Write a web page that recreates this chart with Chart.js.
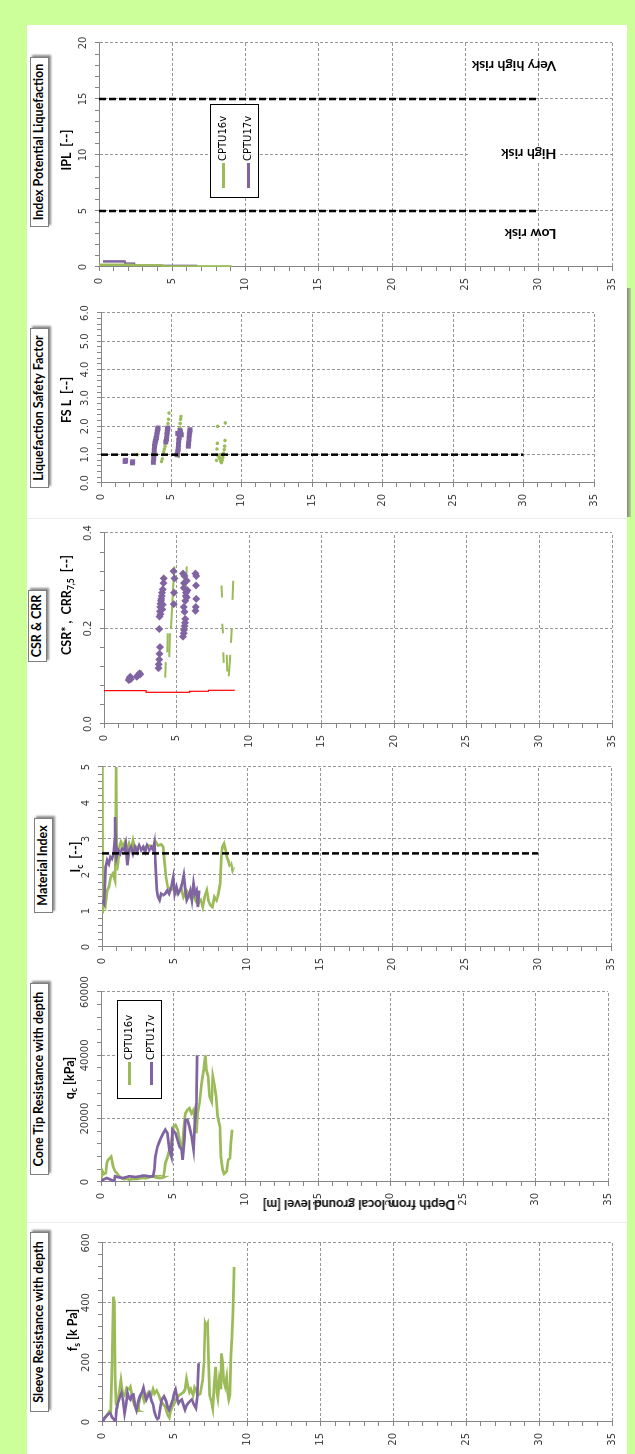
<!DOCTYPE html>
<html>
<head>
<meta charset="utf-8">
<title>CPTU profiles</title>
<script src="https://cdn.jsdelivr.net/npm/chart.js@4.4.1/dist/chart.umd.min.js"></script>
<style>
  html, body { margin:0; padding:0; width:635px; height:1454px; overflow:hidden; background:#ccff99; }
  /* the sheet is laid out landscape and turned a quarter turn */
  #sheet { position:absolute; left:0; top:0; width:1454px; height:635px;
           transform-origin:0 0; transform:translateY(1454px) rotate(-90deg); }
  #paper { position:absolute; left:0; top:27px; width:1429px; height:600px; background:#fff; }
  .sep { position:absolute; top:27px; width:1px; height:600px; background:#ededed; }
  #shadow { position:absolute; left:937px; top:627px; width:229px; height:4px;
            background:linear-gradient(#7d8b70,#b5d896); }
  canvas { position:absolute; }
  .box { position:absolute; height:17px; line-height:17px; border:1px solid #7f7f7f; background:#fff;
         box-shadow:2px 2px 2px rgba(0,0,0,0.45); font:bold 12.5px Lato, sans-serif; color:#000;
         text-align:center; white-space:nowrap; }
  .axt { position:absolute; transform:translate(-50%,-50%); font:bold 12.5px Lato, sans-serif;
         color:#000; white-space:nowrap; }
  .axt sub { font-size:8.5px; vertical-align:-3px; line-height:0; }
  .leg { position:absolute; border:1px solid #000; background:#fff; font:10px 'DejaVu Sans', sans-serif; color:#000; }
  .leg .row { position:absolute; height:12px; line-height:12px; white-space:nowrap; }
  .leg .smp { display:inline-block; height:3px; vertical-align:middle; margin-right:2px; }
  #depthTitle { position:absolute; left:249px; top:359px; transform:translate(-50%,-50%) rotate(-90deg);
                font:bold 13px Lato, sans-serif; white-space:nowrap; color:#000; }
</style>
</head>
<body>
<div id="sheet">
  <div id="paper"></div>
  <div class="sep" style="left:231px"></div>
  <div class="sep" style="left:935px"></div>
  <div id="shadow"></div>
</div>
<script>
// ---------------- data ----------------
const SERIES_NAMES = ['CPTU16v', 'CPTU17v'];
const GREEN = '#9bbb59';
const PURPLE = '#8064a2';

// Sleeve resistance fs [kPa] against depth [m]
const fsDepth16 = [0.05,0.3,0.5,0.6,0.7,0.78,0.85,0.9,0.97,1.05,1.15,1.3,1.4,1.55,1.7,1.85,1.95,2.1,2.2,2.35,2.45,2.6,2.75,2.9,3.05,3.2,3.35,3.5,3.6,3.75,3.9,4.05,4.2,4.35,4.5,4.62,4.7,4.85,5.0,5.15,5.3,5.45,5.6,5.7,5.8,5.9,6.0,6.1,6.25,6.35,6.5,6.6,6.75,6.9,7.0,7.08,7.15,7.25,7.32,7.38,7.5,7.6,7.7,7.8,7.88,7.95,8.05,8.15,8.2,8.28,8.35,8.45,8.55,8.62,8.7,8.78,8.85,8.92,8.98,9.03,9.06];
const fsValue16 = [5,20,35,30,200,420,400,150,60,55,90,140,100,90,115,110,118,80,60,40,38,80,95,70,90,100,85,110,95,105,90,70,60,50,25,15,35,55,65,80,90,95,100,110,145,120,100,110,90,115,100,90,95,140,200,330,320,330,200,90,70,45,120,185,100,80,140,110,230,200,140,120,150,100,75,90,220,280,360,450,520];
const fsDepth17 = [0.02,0.2,0.4,0.55,0.7,0.8,0.92,1.0,1.1,1.2,1.33,1.45,1.55,1.65,1.75,1.85,1.95,2.05,2.15,2.25,2.37,2.5,2.6,2.75,2.85,2.95,3.04,3.15,3.26,3.4,3.5,3.6,3.7,3.8,3.9,4.0,4.1,4.25,4.4,4.5,4.6,4.75,4.86,4.95,5.05,5.15,5.25,5.35,5.47,5.6,5.7,5.8,5.9,6.05,6.16,6.3,6.44,6.52,6.57,6.63];
const fsValue17 = [0,15,25,30,15,10,0,45,65,80,97,70,30,60,97,80,75,90,92,60,40,70,86,100,115,90,75,88,97,70,60,35,18,10,14,50,75,86,70,50,40,60,75,95,108,80,63,70,75,55,41,55,63,70,75,60,47,80,120,197];

// Cone tip resistance qc [kPa]
const qcDepth16 = [0,0.05,0.1,0.2,0.33,0.4,0.5,0.6,0.7,0.77,0.83,0.97,1.1,1.17,1.3,1.4,1.6,1.8,1.95,2.2,2.5,2.8,3.1,3.4,3.6,3.8,4.0,4.2,4.3,4.38,4.45,4.6,4.7,4.86,4.95,5.0,5.14,5.3,5.47,5.6,5.7,5.83,5.97,6.1,6.25,6.4,6.47,6.58,6.67,6.8,6.94,7.08,7.2,7.28,7.4,7.5,7.64,7.72,7.83,7.95,8.05,8.2,8.28,8.4,8.5,8.6,8.67,8.78,8.9,8.97,9.05];
const qcValue16 = [500,1800,3400,2500,2800,6000,7000,7500,8000,6500,4900,3400,2800,2300,1600,1260,900,1100,700,1000,950,1300,1200,1600,1800,1400,1260,1300,1500,3500,6000,8000,9700,12300,15500,17500,18000,16500,12300,9700,16500,21700,22800,23300,21700,22800,20100,15400,21700,24900,31200,35400,40000,35400,33300,27000,25400,33300,30600,27000,20700,17500,8000,3900,2600,3000,3400,7000,7500,12300,16500];
const qcDepth17 = [0,0.14,0.4,0.7,0.85,0.9,0.97,1.2,1.5,1.95,2.4,2.8,3.05,3.4,3.6,3.68,3.75,3.9,4.08,4.3,4.44,4.58,4.72,4.86,4.94,5.14,5.28,5.42,5.56,5.64,5.75,5.83,5.97,6.1,6.25,6.39,6.47,6.58,6.64];
const qcValue17 = [300,700,1260,700,300,0,1800,1500,1260,1800,1570,1900,2000,1700,1800,4000,8000,11200,13300,15400,16500,15400,10200,8000,16500,15400,13300,11200,10200,7000,13300,19600,19600,17500,14400,10200,17500,24900,40000];

// Material index Ic [--]
const icDepth16 = [0.03,0.04,0.08,0.14,0.25,0.36,0.47,0.6,0.75,0.83,0.9,0.95,0.97,1.0,1.02,1.1,1.19,1.3,1.45,1.58,1.72,1.86,2.0,2.13,2.27,2.41,2.7,2.96,3.24,3.52,3.66,3.85,4.07,4.21,4.29,4.4,4.52,4.68,4.9,5.1,5.32,5.46,5.6,5.8,5.93,6.07,6.23,6.35,6.48,6.62,6.79,6.93,7.06,7.2,7.31,7.45,7.59,7.73,7.87,8.0,8.12,8.2,8.28,8.39,8.5,8.58,8.67,8.78,8.87,8.98,9.06];
const icValue16 = [5,0.93,1.1,1.4,1.2,1.57,1.67,1.94,2.04,1.94,1.85,3.5,5,3,2.13,2.3,2.78,2.92,2.78,2.92,2.69,2.87,2.69,2.96,2.69,2.78,2.73,2.78,2.82,2.78,2.94,2.82,2.85,2.78,2.41,1.94,1.67,1.57,1.62,1.48,1.57,1.62,1.39,1.57,1.48,1.39,1.57,1.39,1.25,1.2,1.3,1.11,1.39,1.57,1.3,1.16,1.11,1.39,1.3,1.48,1.76,2.5,2.78,2.87,2.69,2.5,2.41,2.27,2.31,2.13,2.22];
const icDepth17 = [0,0.14,0.25,0.36,0.47,0.58,0.69,0.8,0.88,0.91,0.95,1.0,1.11,1.25,1.38,1.52,1.63,1.75,1.86,2.0,2.13,2.27,2.41,2.55,2.69,2.83,2.96,3.1,3.24,3.38,3.52,3.6,3.68,3.77,3.85,3.96,4.07,4.21,4.35,4.49,4.62,4.76,4.9,5.0,5.12,5.24,5.37,5.51,5.62,5.73,5.82,5.93,6.07,6.18,6.29,6.4,6.5,6.59,6.68];
const icValue17 = [1.3,1.2,2.22,2.41,2.31,2.5,2.45,2.59,3.0,3.61,2.8,2.5,2.69,2.59,2.73,2.69,2.87,2.27,2.69,2.78,2.59,2.78,2.64,2.82,2.69,2.78,2.64,2.82,2.69,2.78,2.69,2.87,2.22,1.57,1.39,1.3,1.48,1.44,1.48,1.57,1.48,1.67,1.94,1.48,1.67,1.48,1.57,1.76,1.99,1.57,1.3,1.39,1.57,1.3,1.76,1.48,1.57,1.11,1.57];
const icLimit = [2.6, 2.6];
const icLimitDepth = [0, 30];

// Cyclic stress ratio CSR* and cyclic resistance ratio CRR7.5
const csrDepth = [0,2.9,2.9,5.9,5.9,7.2,7.2,9.0];
const csrValue = [0.0699,0.0699,0.0664,0.0664,0.0685,0.0685,0.0706,0.0706];
const crrDepth16 = [2.35,2.6,null,4.22,4.26,null,4.35,4.4,null,4.5,4.55,null,4.62,4.7,4.78,4.85,null,5.6,5.65,5.7,null,8.1,8.13,null,8.15,8.2,null,8.22,8.25,null,8.45,8.5,null,8.6,8.65,8.7,null,8.75,8.8,null,8.85,8.9];
const crrValue16 = [0.102,0.112,null,0.097,0.13,null,0.15,0.19,null,0.14,0.19,null,0.2,0.25,0.3,0.33,null,0.26,0.29,0.33,null,0.29,0.265,null,0.21,0.19,null,0.15,0.128,null,0.145,0.11,null,0.1,0.12,0.145,null,0.17,0.2,null,0.26,0.3];
const crrDepth17 = [1.7,1.75,1.8,1.85,2.25,2.35,2.45,2.5,3.75,3.78,3.8,3.82,3.85,3.8,3.83,3.86,3.88,3.9,3.93,3.95,3.98,4.0,4.05,4.1,4.12,4.02,4.05,3.9,4.8,4.82,4.85,4.78,5.45,5.5,5.52,5.55,5.58,5.6,5.55,5.5,5.6,5.63,5.65,5.5,5.52,5.55,5.7,5.75,5.7,5.45,6.3,6.32,6.35,6.33,6.35,6.3];
const crrValue17 = [0.092,0.096,0.099,0.094,0.099,0.102,0.106,0.104,0.117,0.125,0.135,0.147,0.161,0.199,0.225,0.236,0.245,0.252,0.258,0.262,0.268,0.275,0.282,0.295,0.305,0.24,0.25,0.23,0.251,0.275,0.305,0.32,0.183,0.19,0.197,0.205,0.212,0.22,0.235,0.245,0.258,0.268,0.275,0.285,0.295,0.31,0.3,0.28,0.265,0.315,0.237,0.245,0.262,0.29,0.31,0.315];

// Liquefaction safety factor FSL [--]
const fslDepth16 = [2.57,4.3,4.35,4.4,4.45,4.5,4.55,4.58,4.6,4.72,4.76,4.8,4.83,5.5,5.52,5.55,5.58,5.6,5.62,5.65,5.68,8.2,8.22,8.24,8.26,8.28,8.35,8.4,8.45,8.45,8.5,8.55,8.6,8.65,8.7,8.75,8.78,8.8,8.82];
const fslValue16 = [1.0,0.76,0.85,1.0,1.1,1.2,1.3,1.4,1.47,1.94,2.1,2.25,2.47,0.94,1.2,1.5,1.75,1.95,2.1,2.25,2.35,0.8,1.0,1.2,1.4,2.0,0.95,0.9,0.85,1.0,0.76,0.72,0.8,0.9,1.05,1.18,1.3,1.5,2.12];
const fslDepth17 = [1.71,1.75,2.23,2.25,3.72,3.74,3.76,3.78,3.8,3.83,3.86,3.9,3.93,3.96,3.99,4.02,4.05,4.6,4.65,4.68,4.7,4.72,4.75,5.4,5.45,5.48,5.5,5.52,5.55,5.58,5.6,5.65,5.7,5.45,6.2,6.22,6.25,6.27,6.3,6.32];
const fslValue17 = [0.76,0.8,0.71,0.75,0.73,0.85,1.0,1.15,1.3,1.4,1.47,1.55,1.6,1.7,1.8,1.88,1.94,1.45,1.55,1.7,1.8,1.9,1.94,1.0,1.1,1.2,1.35,1.5,1.6,1.75,1.85,1.8,1.7,1.75,1.3,1.4,1.55,1.7,1.8,1.88];
const fslLimit = [1.0, 1.0];
const fslLimitDepth = [0, 30];

// Index of liquefaction potential IPL [--]
const iplDepth16 = [0,2.3,2.35,4.3,4.35,9.06];
const iplValue16 = [0.2,0.2,0.15,0.15,0.05,0.05];
const iplDepth17 = [0.27,1.75,1.8,2.4,2.45,6.7];
const iplValue17 = [0.5,0.5,0.3,0.3,0.1,0.1];
const iplClassLimits = [5, 15];
const iplLimitDepth = [0, 30];
const riskLabels = ['Low risk', 'High risk', 'Very high risk'];
const riskLevels = [2.9, 10, 17.9];
const riskLabelDepth = 31.2;

// ---------------- drawing ----------------
const sheet = document.getElementById('sheet');
const isMajor = (v, step) => Math.abs(v / step - Math.round(v / step)) < 1e-6;
const pts = (depths, values) => depths.map((d, i) =>
  (d === null || values[i] === null) ? { x: null, y: null } : { x: values[i], y: d });

function lineSet(label, depths, values, color, width, dash) {
  return { label, data: pts(depths, values), showLine: true, borderColor: color, backgroundColor: color,
           borderWidth: width, borderDash: dash || [], pointRadius: 0, pointHoverRadius: 0, tension: 0, fill: false };
}
function markerSet(label, depths, values, color, style, radius) {
  return { label, data: pts(depths, values), showLine: false, pointStyle: style, pointRadius: radius,
           pointBackgroundColor: color, pointBorderColor: color, pointBorderWidth: 0, pointHoverRadius: radius };
}

function panel(cfg) {
  const L = 30, T = 26, R = 22, B = 10;
  const [x0, x1, y0, y1] = cfg.area;
  const cv = document.createElement('canvas');
  cv.width = x1 - x0 + L + R;
  cv.height = y1 - y0 + T + B;
  cv.style.left = (x0 - L) + 'px';
  cv.style.top = (y0 - T) + 'px';
  sheet.appendChild(cv);
  const tickFont = { family: 'DejaVu Sans', size: 10 };
  const minorGrid = (step) => (c) => (c.tick && isMajor(c.tick.value, step)) ? '#969696' : 'rgba(0,0,0,0)';
  new Chart(cv, {
    type: 'scatter',
    data: { datasets: cfg.datasets },
    options: {
      responsive: false, animation: false, devicePixelRatio: 1, events: [],
      layout: { padding: { left: 0, top: 0, right: R, bottom: B } },
      plugins: { legend: { display: false }, tooltip: { enabled: false } },
      scales: {
        x: {
          type: 'linear', position: 'top', min: 0, max: cfg.max,
          afterFit: s => { s.height = T; },
          ticks: { stepSize: cfg.step / 5, autoSkip: false, maxRotation: 0, minRotation: 0, padding: 6,
                   color: '#404040', font: tickFont,
                   callback: v => isMajor(v, cfg.step) ? v.toFixed(cfg.dec) : '' },
          grid: { color: minorGrid(cfg.step), lineWidth: 1, tickColor: '#868686', tickLength: 4 },
          border: { color: '#868686', width: 1, dash: [3, 2] }
        },
        y: {
          type: 'linear', position: 'left', reverse: true, min: 0, max: 35,
          afterFit: s => { s.width = L; },
          ticks: { stepSize: 1, autoSkip: false, padding: 7, color: '#404040', font: tickFont,
                   callback: v => isMajor(v, 5) ? String(Math.round(v)) : '' },
          grid: { color: minorGrid(5), lineWidth: 1, tickColor: '#868686', tickLength: 4 },
          border: { color: '#868686', width: 1, dash: [3, 2] }
        }
      }
    },
    plugins: cfg.plugins || []
  });
}

// risk class labels of the IPL panel
const riskPlugin = {
  id: 'riskLabels',
  beforeDatasetsDraw(chart) {
    const { ctx, scales: { x, y } } = chart;
    ctx.save();
    ctx.font = 'bold 14px Lato';
    ctx.textAlign = 'left';
    ctx.textBaseline = 'middle';
    riskLabels.forEach((t, i) => {
      ctx.save();
      ctx.translate(x.getPixelForValue(riskLevels[i]), y.getPixelForValue(riskLabelDepth));
      ctx.rotate(-Math.PI / 2);
      if (i === 1) {
        ctx.fillStyle = '#fff';
        ctx.fillRect(-2, -8, ctx.measureText(t).width + 34, 16);
      }
      ctx.fillStyle = '#000';
      ctx.fillText(t, 0, 1);
      ctx.restore();
    });
    ctx.restore();
  }
};

const dash = [7, 3];

panel({ area: [32, 211, 102, 615], max: 600, step: 200, dec: 0, datasets: [
  lineSet(SERIES_NAMES[1], fsDepth17, fsValue17, PURPLE, 2.75),
  lineSet(SERIES_NAMES[0], fsDepth16, fsValue16, GREEN, 2.75)
]});

panel({ area: [272, 462, 101, 611], max: 60000, step: 20000, dec: 0, datasets: [
  lineSet(SERIES_NAMES[1], qcDepth17, qcValue17, PURPLE, 2.75),
  lineSet(SERIES_NAMES[0], qcDepth16, qcValue16, GREEN, 2.75)
]});

panel({ area: [507, 687, 102, 614], max: 5, step: 1, dec: 0, datasets: [
  lineSet('Ic limit', icLimitDepth, icLimit, '#000', 2.5, dash),
  lineSet(SERIES_NAMES[1], icDepth17, icValue17, PURPLE, 2.75),
  lineSet(SERIES_NAMES[0], icDepth16, icValue16, GREEN, 2.75)
]});

panel({ area: [730, 921, 104, 615], max: 0.4, step: 0.2, dec: 1, datasets: [
  lineSet('CSR*', csrDepth, csrValue, '#ff0000', 1.2),
  markerSet('CRR7.5 ' + SERIES_NAMES[1], crrDepth17, crrValue17, PURPLE, 'rectRot', 4),
  lineSet('CRR7.5 ' + SERIES_NAMES[0], crrDepth16, crrValue16, GREEN, 2)
]});

panel({ area: [971, 1141, 101, 597], max: 6, step: 1, dec: 1, datasets: [
  lineSet('FSL = 1', fslLimitDepth, fslLimit, '#000', 2.5, dash),
  markerSet(SERIES_NAMES[1], fslDepth17, fslValue17, PURPLE, 'rect', 3.5),
  markerSet(SERIES_NAMES[0], fslDepth16, fslValue16, GREEN, 'circle', 1.8)
]});

panel({ area: [1187, 1411, 99, 615], max: 20, step: 5, dec: 0, plugins: [riskPlugin], datasets: [
  lineSet('IPL 5', iplLimitDepth, [iplClassLimits[0], iplClassLimits[0]], '#000', 2.5, dash),
  lineSet('IPL 15', iplLimitDepth, [iplClassLimits[1], iplClassLimits[1]], '#000', 2.5, dash),
  lineSet(SERIES_NAMES[0], iplDepth16, iplValue16, GREEN, 2.5),
  lineSet(SERIES_NAMES[1], iplDepth17, iplValue17, PURPLE, 2.5)
]});

// ---------------- titles and legends ----------------
function addEl(cls, html, style) {
  const el = document.createElement('div');
  el.className = cls;
  el.innerHTML = html;
  Object.assign(el.style, style);
  sheet.appendChild(el);
  return el;
}
const boxTitles = [
  ['Sleeve Resistance with depth', 42, 30, 178],
  ['Cone Tip Resistance with depth', 279, 30, 190],
  ['Material Index', 541, 34, 93],
  ['CSR &amp; CRR', 792, 28, 70],
  ['Liquefaction Safety Factor', 966, 30, 158],
  ['Index Potential Liquefaction', 1227, 30, 168]
];
boxTitles.forEach(([t, l, tp, w]) => addEl('box', t, { left: l + 'px', top: tp + 'px', width: w + 'px' }));

const axisTitles = [
  ['f<sub>s</sub> [k Pa]', 124, 72],
  ['q<sub>c</sub> [kPa]', 376, 69],
  ['I<sub>c</sub> &nbsp;[--]', 597, 75],
  ['CSR* , &nbsp;CRR<sub>7,5</sub> &nbsp;[--]', 849, 66],
  ['FS L &nbsp;[--]', 1054, 66],
  ['IPL &nbsp;[--]', 1304, 66]
];
axisTitles.forEach(([t, cx, cy]) => addEl('axt', t, { left: cx + 'px', top: cy + 'px' }));

const depthTitle = addEl('', 'Depth from local ground level [m]', {});
depthTitle.id = 'depthTitle';

function legend(left, top, width, height, rowTops, sampleLeft, sampleWidth) {
  const lg = addEl('leg', '', { left: left + 'px', top: top + 'px', width: width + 'px', height: height + 'px' });
  [GREEN, PURPLE].forEach((c, i) => {
    const row = document.createElement('div');
    row.className = 'row';
    row.style.left = sampleLeft + 'px';
    row.style.top = rowTops[i] + 'px';
    row.innerHTML = '<span class="smp" style="width:' + sampleWidth + 'px;background:' + c + '"></span>' + SERIES_NAMES[i];
    lg.appendChild(row);
  });
}
legend(355, 117, 97, 43, [5, 27], 13, 23);
legend(1256, 210, 92, 47, [6, 31], 9, 25);
</script>
</body>
</html>
